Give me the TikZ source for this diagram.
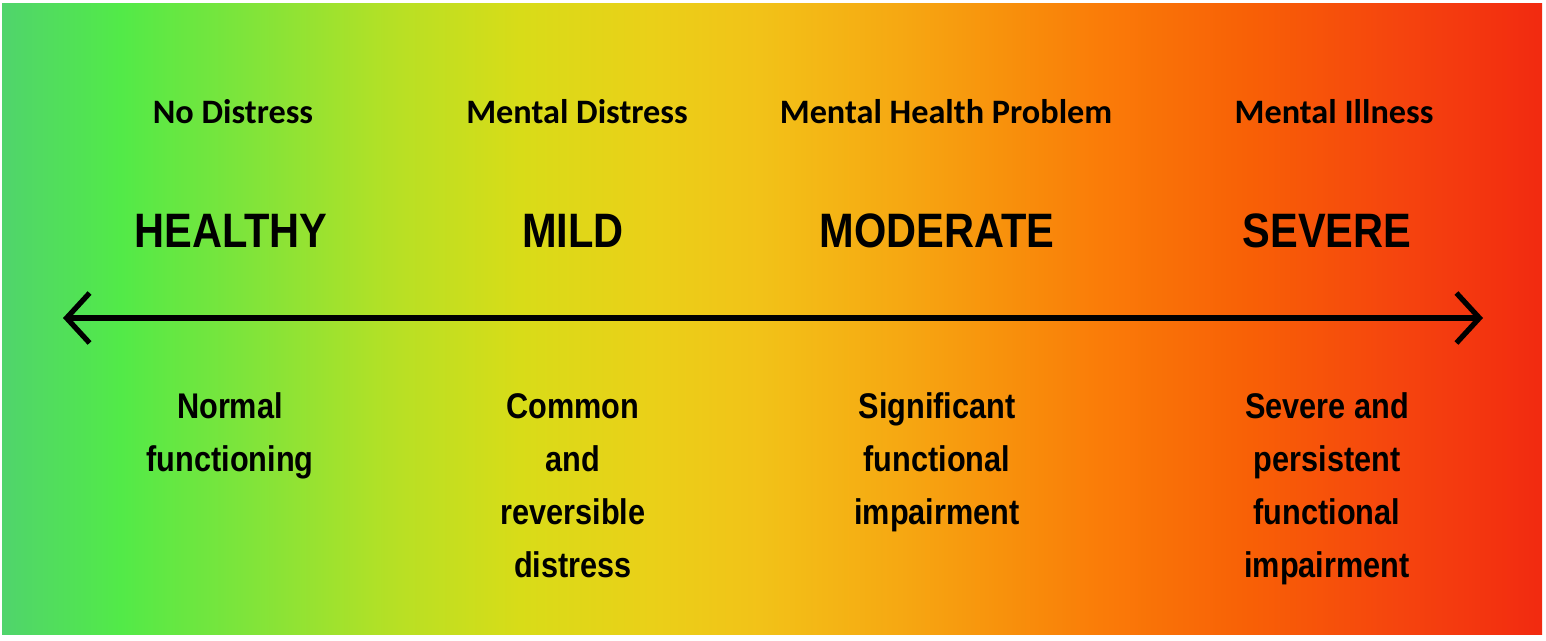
\documentclass[tikz,border=0pt]{standalone}
\usepackage{fontspec}
\setmainfont{Liberation Sans}
\newfontfamily\calfont{Carlito}
\newfontfamily\narrowfont[FakeStretch=0.86]{Liberation Sans}
\usetikzlibrary{arrows.meta,positioning}

% spectrum colours, left to right
\definecolor{sp0}{HTML}{50D46C}
\definecolor{sp1}{HTML}{52EA48}
\definecolor{sp2}{HTML}{80E43A}
\definecolor{sp3}{HTML}{B8E024}
\definecolor{sp4}{HTML}{D8DC18}
\definecolor{sp5}{HTML}{EAD018}
\definecolor{sp6}{HTML}{F2C218}
\definecolor{sp7}{HTML}{F6A812}
\definecolor{sp8}{HTML}{F8920C}
\definecolor{sp9}{HTML}{FA7C08}
\definecolor{sp10}{HTML}{F86006}
\definecolor{sp11}{HTML}{F5440E}
\definecolor{sp12}{HTML}{F22A10}
% the path is fitted to 25bp..75bp of the shading
\pgfdeclarehorizontalshading{spectrum}{100bp}{
  color(0bp)=(sp0); color(25bp)=(sp0); color(28.85bp)=(sp1); color(33.05bp)=(sp2);
  color(37.9bp)=(sp3); color(41.8bp)=(sp4); color(46.05bp)=(sp5);
  color(49.6bp)=(sp6); color(54.15bp)=(sp7); color(57.4bp)=(sp8);
  color(60.65bp)=(sp9); color(65.5bp)=(sp10); color(70.4bp)=(sp11);
  color(75bp)=(sp12); color(100bp)=(sp12)}

\tikzset{
  toplbl/.style={inner sep=0pt,anchor=base,font=\calfont\bfseries\fontsize{19.5}{23}\selectfont},
  sevlbl/.style={inner sep=0pt,anchor=base,font=\narrowfont\bfseries\fontsize{27.5}{33}\selectfont},
  desclbl/.style={inner sep=0pt,anchor=base,align=center,font=\narrowfont\bfseries\fontsize{20.3}{30}\selectfont},
  spec/.style={line width=3pt,{Straight Barb[length=4.6mm,width=10mm]}-{Straight Barb[length=4.6mm,width=10mm]}}
}

\begin{document}
\begin{tikzpicture}[x=0.02cm,y=-0.02cm]
  \useasboundingbox (0,0) rectangle (1546,640);
  % Background spectrum
  \shade[shading=spectrum] (2,3) rectangle (1542,634);

  % Top row
  \node[toplbl] (t1) at (233,123) {No Distress};
  \node[toplbl] (t2) at (577,123) {Mental Distress};
  \node[toplbl] (t3) at (946,123) {Mental Health Problem};
  \node[toplbl] (t4) at (1334,123) {Mental Illness};

  % Severity
  \node[sevlbl] (healthy) at (231,247) {HEALTHY};
  \node[sevlbl] (mild) at (573,247) {MILD};
  \node[sevlbl] (moderate) at (937,247) {MODERATE};
  \node[sevlbl] (severe) at (1327,247) {SEVERE};

  % Continuum arrow
  \coordinate (lend) at (63,318);
  \coordinate (rend) at (1483,318);
  \draw[spec] (lend) -- (rend);

  % Descriptions (base = last line)
  \node[desclbl] (d1) at (230,471) {Normal\\functioning};
  \node[desclbl] (d2) at (573,577) {Common\\and\\reversible\\distress};
  \node[desclbl] (d3) at (937,524) {Significant\\functional\\impairment};
  \node[desclbl] (d4) at (1327,577) {Severe and\\persistent\\functional\\impairment};
\end{tikzpicture}
\end{document}
